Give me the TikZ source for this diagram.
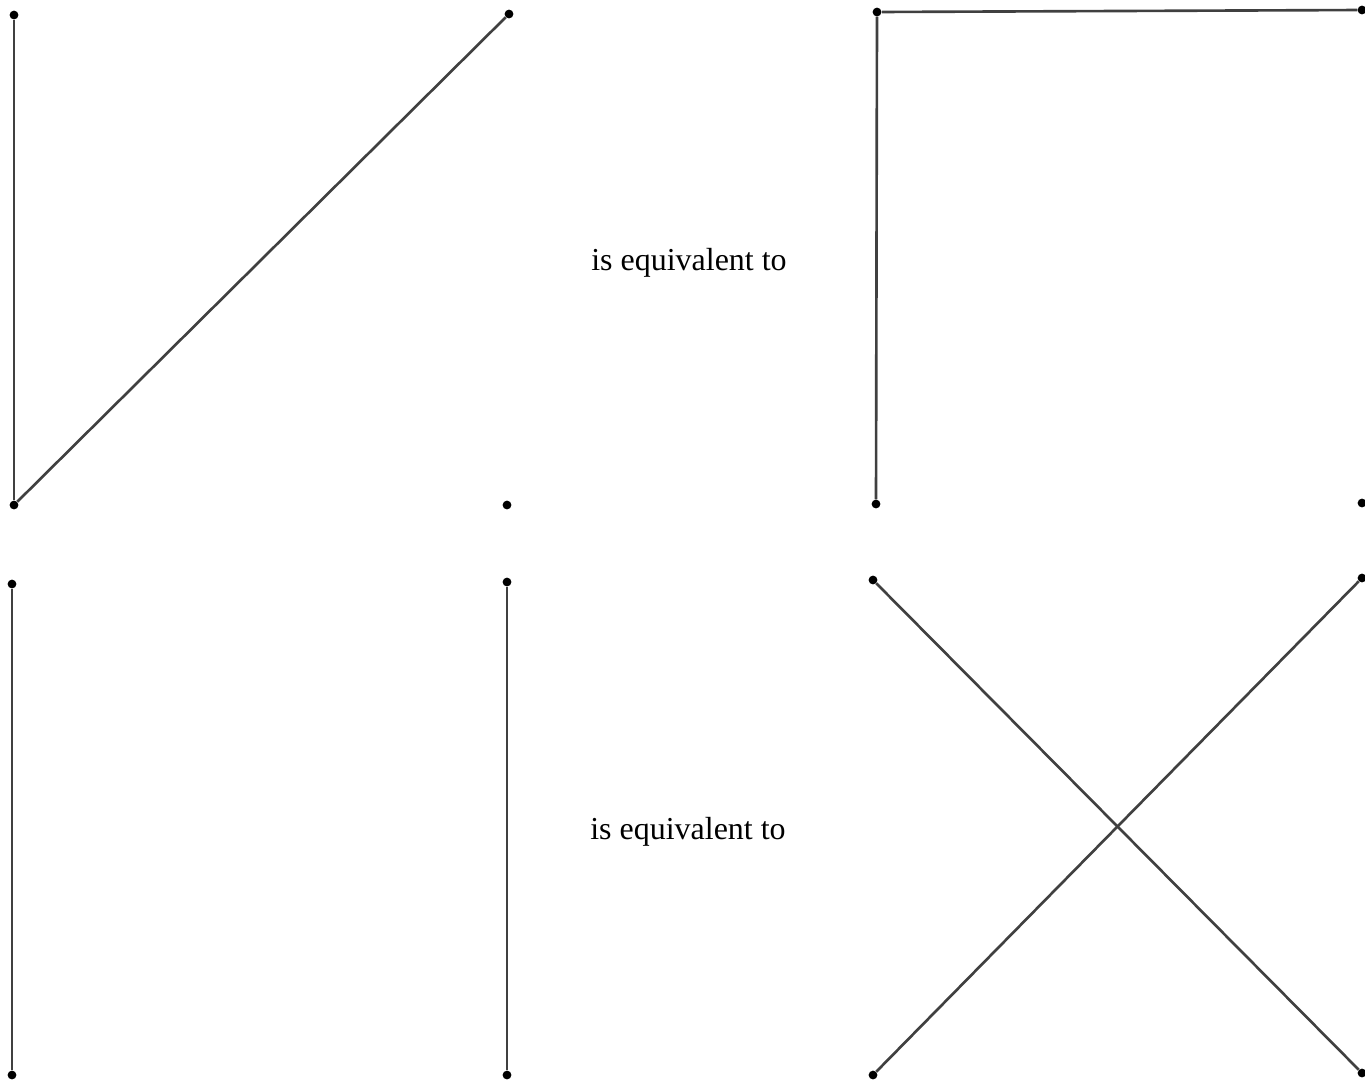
\documentclass[tikz,border=0pt]{standalone}
\usepackage{fontspec}
\setmainfont{Liberation Serif}
\usetikzlibrary{positioning}

\tikzset{
  vertex/.style={circle, fill=black, inner sep=0pt, minimum size=5pt},
  link/.style={draw=black!75, line width=1.5pt},
  caption/.style={font=\fontsize{18.2}{22}\selectfont, inner sep=0pt}
}

\begin{document}
\begin{tikzpicture}[x=0.02cm, y=-0.02cm]
    \useasboundingbox (0,0) rectangle (1365,1079);

    %% Top left graph
    \node[vertex] (a1) at (14,15) {};
    \node[vertex] (a2) at (509,14) {};
    \node[vertex] (a3) at (14,505) {};
    \node[vertex] (a4) at (507,505) {};
    \draw[link] (a1) -- (a3);
    \draw[link] (a3) -- (a2);

    \node[caption] (eq1) at (689,263) {is equivalent to};

    %% Top right graph
    \node[vertex] (b1) at (877,12) {};
    \node[vertex] (b2) at (1362,10) {};
    \node[vertex] (b3) at (876,504) {};
    \node[vertex] (b4) at (1362,503) {};
    \draw[link] (b3) -- (b1);
    \draw[link] (b1) -- (b2);

    %% Bottom left graph
    \node[vertex] (c1) at (12,584) {};
    \node[vertex] (c2) at (507,582) {};
    \node[vertex] (c3) at (12,1075) {};
    \node[vertex] (c4) at (507,1075) {};
    \draw[link] (c1) -- (c3);
    \draw[link] (c2) -- (c4);

    \node[caption] (eq2) at (688,832) {is equivalent to};

    %% Bottom right graph
    \node[vertex] (d1) at (873,580) {};
    \node[vertex] (d2) at (1362,578) {};
    \node[vertex] (d3) at (873,1075) {};
    \node[vertex] (d4) at (1362,1073) {};
    \draw[link] (d1) -- (d4);
    \draw[link] (d3) -- (d2);

\end{tikzpicture}
\end{document}
